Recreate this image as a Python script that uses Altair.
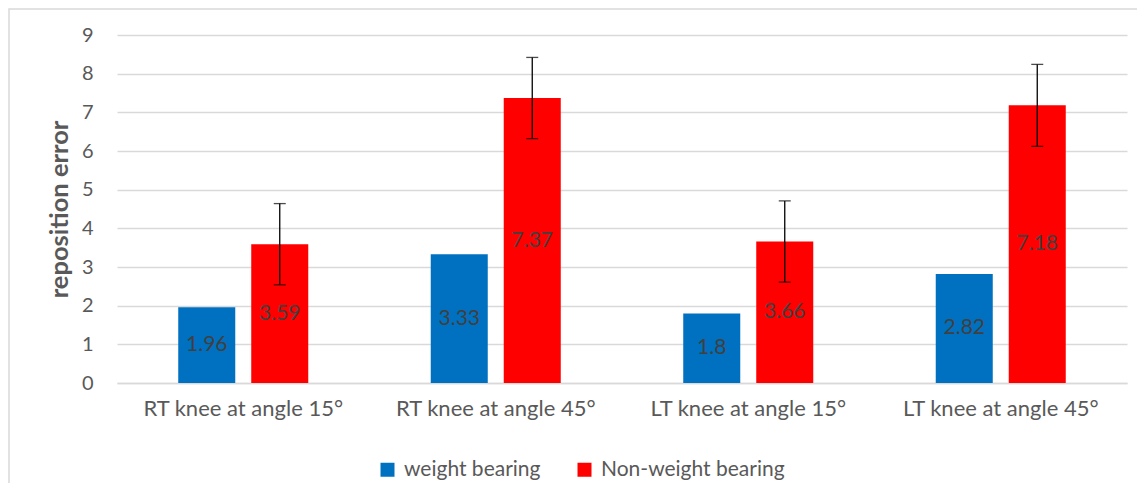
import altair as alt
import pandas as pd

categories = ["RT knee at angle 15°", "RT knee at angle 45°", "LT knee at angle 15°", "LT knee at angle 45°"]
series = ["weight bearing", "Non-weight bearing"]
weight_bearing = [1.96, 3.33, 1.8, 2.82]
non_weight_bearing = [3.59, 7.37, 3.66, 7.18]
nwb_error = [1.05, 1.05, 1.05, 1.06]
colors = ["#0070C0", "#FF0000"]
y_ticks = [0, 1, 2, 3, 4, 5, 6, 7, 8, 9]

rows = []
for c, v in zip(categories, weight_bearing):
    rows.append({"cat": c, "series": series[0], "value": v, "label": str(v), "err": None})
for c, v, e in zip(categories, non_weight_bearing, nwb_error):
    rows.append({"cat": c, "series": series[1], "value": v, "label": str(v), "err": e})
df = pd.DataFrame(rows)
df["mid"] = df["value"] / 2
df["lo"] = df["value"] - df["err"]
df["hi"] = df["value"] + df["err"]
err_df = df[df["err"].notna()]

FONT = "Lato"
TXT = "#595959"

xscale = alt.Scale(domain=categories, paddingInner=0, paddingOuter=0)
yscale = alt.Scale(domain=[0, 9], nice=False)
xo = alt.XOffset("series:N", sort=series,
                 scale=alt.Scale(domain=series, paddingInner=0.219, paddingOuter=0.839))

x_axis_def = alt.Axis(labelAngle=0, labelFontSize=22, labelColor=TXT, labelFont=FONT,
                      ticks=False, domainColor="#d9d9d9", domainWidth=1.5,
                      labelPadding=15, labelLimit=400)
y_axis_def = alt.Axis(values=y_ticks, labelOverlap=False, domain=False,
                      ticks=False, labelFontSize=20,
                      labelColor=TXT, labelFont=FONT, labelPadding=24,
                      gridColor="#d9d9d9", gridWidth=1.5,
                      titleFontSize=25.5, titleFont=FONT, titleFontWeight="bold",
                      titleColor=TXT, titlePadding=9)


def xdef():
    return alt.X("cat:N", sort=categories, title=None, scale=xscale, axis=x_axis_def)


def ydef(field):
    return alt.Y(field, title="reposition error", scale=yscale, axis=y_axis_def)


base = alt.Chart(df)

bars = base.mark_bar(stroke=None).encode(
    x=xdef(), xOffset=xo,
    y=ydef("value:Q"),
    color=alt.Color("series:N", sort=series,
                    scale=alt.Scale(domain=series, range=colors),
                    legend=alt.Legend(title=None, orient="none", direction="horizontal",
                                      legendX=260, legendY=424, symbolType="square",
                                      symbolSize=196, symbolStrokeWidth=0,
                                      labelFontSize=21, labelFont=FONT, labelColor=TXT,
                                      labelOffset=6, columnPadding=33, labelLimit=400)),
)

labels = base.mark_text(fontSize=21, font=FONT, color="#404040", baseline="middle").encode(
    x=xdef(), xOffset=xo, y=ydef("mid:Q"), text="label:N")

err_rule = alt.Chart(err_df).mark_rule(color="black", strokeWidth=1.3).encode(
    x=xdef(), xOffset=xo, y=ydef("lo:Q"), y2="hi:Q")
err_cap_lo = alt.Chart(err_df).mark_tick(color="black", size=12, thickness=1.3, orient="horizontal").encode(
    x=xdef(), xOffset=xo, y=ydef("lo:Q"))
err_cap_hi = alt.Chart(err_df).mark_tick(color="black", size=12, thickness=1.3, orient="horizontal").encode(
    x=xdef(), xOffset=xo, y=ydef("hi:Q"))

frame = alt.Chart(pd.DataFrame({"k": [0]})).mark_rect(
    fill=None, stroke="#d9d9d9", strokeWidth=1.5).encode(
    x=alt.value(-108), x2=alt.value(1040), y=alt.value(-26), y2=alt.value(500))

chart = alt.layer(bars, labels, err_rule, err_cap_lo, err_cap_hi, frame).properties(
    width=1010, height=348,
    background="white",
    padding={"left": 109, "top": 27, "right": 10, "bottom": 100},
    autosize=alt.AutoSizeParams(type="none"),
).configure_view(stroke=None)

chart.save("out.html", embed_options={"renderer": "svg", "actions": False})
